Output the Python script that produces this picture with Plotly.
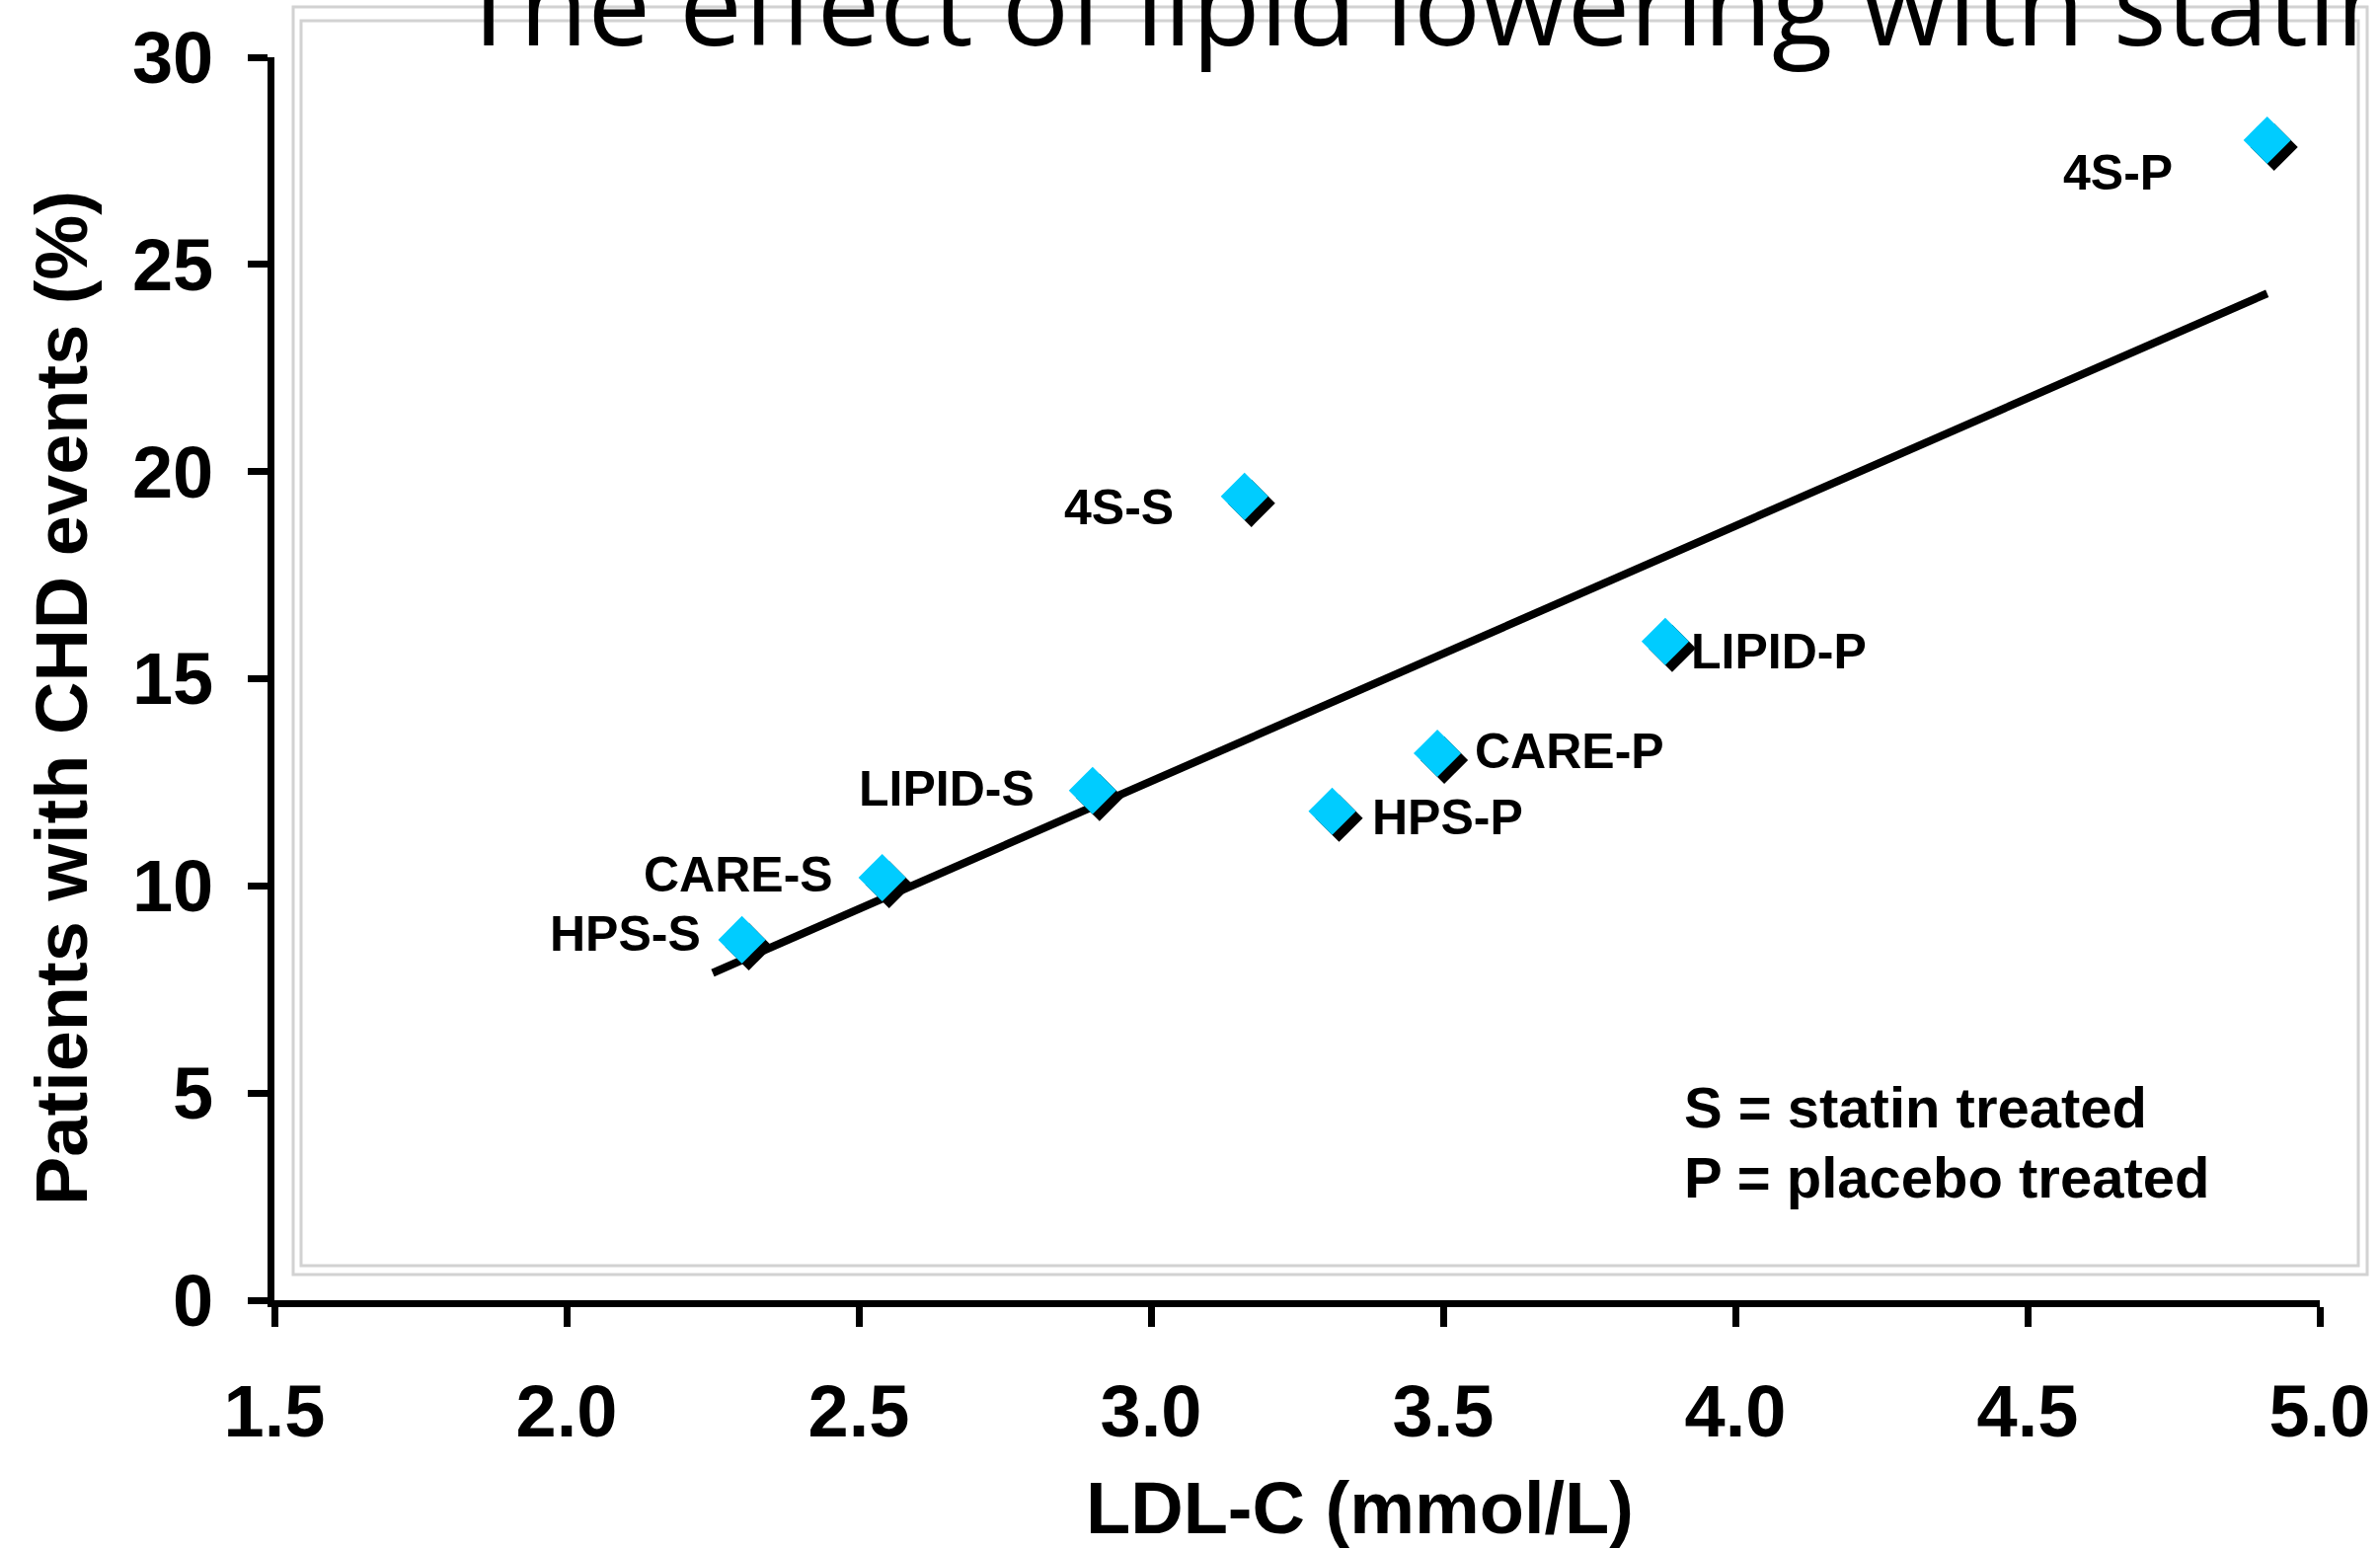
import plotly.graph_objects as go

# Trial arms: mean on-treatment LDL-C (mmol/L) vs. proportion with CHD events (%)
trial_labels = ["HPS-S", "CARE-S", "LIPID-S", "4S-S", "HPS-P", "CARE-P", "LIPID-P", "4S-P"]
ldl_c = [2.30, 2.54, 2.90, 3.16, 3.31, 3.49, 3.88, 4.91]
chd_events = [8.7, 10.2, 12.3, 19.4, 11.8, 13.2, 15.9, 28.0]

# Regression line end points
trend_x = [2.25, 4.91]
trend_y = [7.9, 24.3]

x_ticks = [1.5, 2.0, 2.5, 3.0, 3.5, 4.0, 4.5, 5.0]
y_ticks = [0, 5, 10, 15, 20, 25, 30]

title_text = "The effect of lipid lowering with statins"
legend_lines = ["S = statin treated", "P = placebo treated"]

# ---- layout geometry (pixels) ----
W, H = 2411, 1569
M_L, M_R, M_T, M_B = 278, 61, 58, 252
PLOT_W = W - M_L - M_R
PLOT_H = H - M_T - M_B
X_RANGE = [1.5, 5.0]
Y_RANGE = [0, 30]

# label offsets (px) relative to each marker: (xshift, yshift, anchor)
label_style = {
    "HPS-S": (-40, 6, "right"),
    "CARE-S": (-48, 3, "right"),
    "LIPID-S": (-57, 2, "right"),
    "4S-S": (-70, -11, "right"),
    "HPS-P": (38, -6, "left"),
    "CARE-P": (36, 2, "left"),
    "LIPID-P": (24, -10, "left"),
    "4S-P": (-94, -33, "right"),
}

FAMILY = "Liberation Sans, Arial, sans-serif"
CYAN = "#00CCFF"
MARKER_SIZE = 37


def bold(size):
    return dict(family=FAMILY, size=size, color="black", weight="bold")


def px_to_paper(px, py):
    return (px - M_L) / PLOT_W, (H - M_B - py) / PLOT_H


# drop-shadow offset for the diamonds, converted from pixels to data units
shadow_dx = 7 * (X_RANGE[1] - X_RANGE[0]) / PLOT_W
shadow_dy = 7 * (Y_RANGE[1] - Y_RANGE[0]) / PLOT_H

fig = go.Figure()

fig.add_trace(go.Scatter(
    x=trend_x, y=trend_y, mode="lines",
    line=dict(color="black", width=8), hoverinfo="skip", showlegend=False,
))

fig.add_trace(go.Scatter(
    x=[v + shadow_dx for v in ldl_c], y=[v - shadow_dy for v in chd_events],
    mode="markers",
    marker=dict(symbol="diamond", size=MARKER_SIZE, color="black", line=dict(width=0)),
    hoverinfo="skip", showlegend=False,
))

fig.add_trace(go.Scatter(
    x=ldl_c, y=chd_events, mode="markers", text=trial_labels,
    marker=dict(symbol="diamond", size=MARKER_SIZE, color=CYAN, line=dict(width=0)),
    showlegend=False,
))

annotations = []
for name, xv, yv in zip(trial_labels, ldl_c, chd_events):
    xs, ys, anchor = label_style[name]
    annotations.append(dict(
        x=xv, y=yv, xref="x", yref="y", text=name, showarrow=False,
        xanchor=anchor, yanchor="middle", xshift=xs, yshift=ys, font=bold(50),
    ))

# key for the S / P suffixes
for line, py in zip(legend_lines, [1121, 1192]):
    lx, ly = px_to_paper(1704, py)
    annotations.append(dict(
        x=lx, y=ly, xref="paper", yref="paper", text=line, showarrow=False,
        xanchor="left", yanchor="middle", font=bold(58),
    ))

# axis titles
tx, ty = px_to_paper(1377, 1527)
annotations.append(dict(
    x=tx, y=ty, xref="paper", yref="paper", text="LDL-C (mmol/L)", showarrow=False,
    xanchor="center", yanchor="middle", font=bold(74),
))
tx, ty = px_to_paper(62, 707)
annotations.append(dict(
    x=tx, y=ty, xref="paper", yref="paper", text="Patients with CHD events (%)",
    showarrow=False, textangle=-90, xanchor="center", yanchor="middle", font=bold(74),
))

# slide title, running off the right edge
tx, ty = px_to_paper(462, 43)
annotations.append(dict(
    x=tx, y=ty, xref="paper", yref="paper", text=title_text, showarrow=False,
    xanchor="left", yanchor="bottom", yshift=-38,
    font=dict(family="Open Sans, sans-serif", size=113, color="black"),
))

# light double frame around the chart area
shapes = []
for (x0, y0, x1, y1) in [(297, 7, 2398, 1291), (305, 21, 2389, 1282)]:
    a0, b0 = px_to_paper(x0, y1)
    a1, b1 = px_to_paper(x1, y0)
    shapes.append(dict(
        type="rect", xref="paper", yref="paper", x0=a0, y0=b0, x1=a1, y1=b1,
        line=dict(color="#d2d2d2", width=3), fillcolor="rgba(0,0,0,0)", layer="below",
    ))

axis_common = dict(
    showgrid=False, zeroline=False, showline=True, linecolor="black", linewidth=7,
    ticks="outside", ticklen=20, tickwidth=7, tickcolor="black",
    tickfont=bold(74),
)

fig.update_layout(
    width=W, height=H,
    margin=dict(l=M_L, r=M_R, t=M_T, b=M_B, autoexpand=False),
    paper_bgcolor="white", plot_bgcolor="white",
    xaxis=dict(range=X_RANGE, tickvals=x_ticks, tickformat=".1f",
               ticklabelstandoff=22, **axis_common),
    yaxis=dict(range=Y_RANGE, tickvals=y_ticks, ticklabelstandoff=20, **axis_common),
    annotations=annotations,
    shapes=shapes,
    showlegend=False,
)

fig.write_html("out.html")
